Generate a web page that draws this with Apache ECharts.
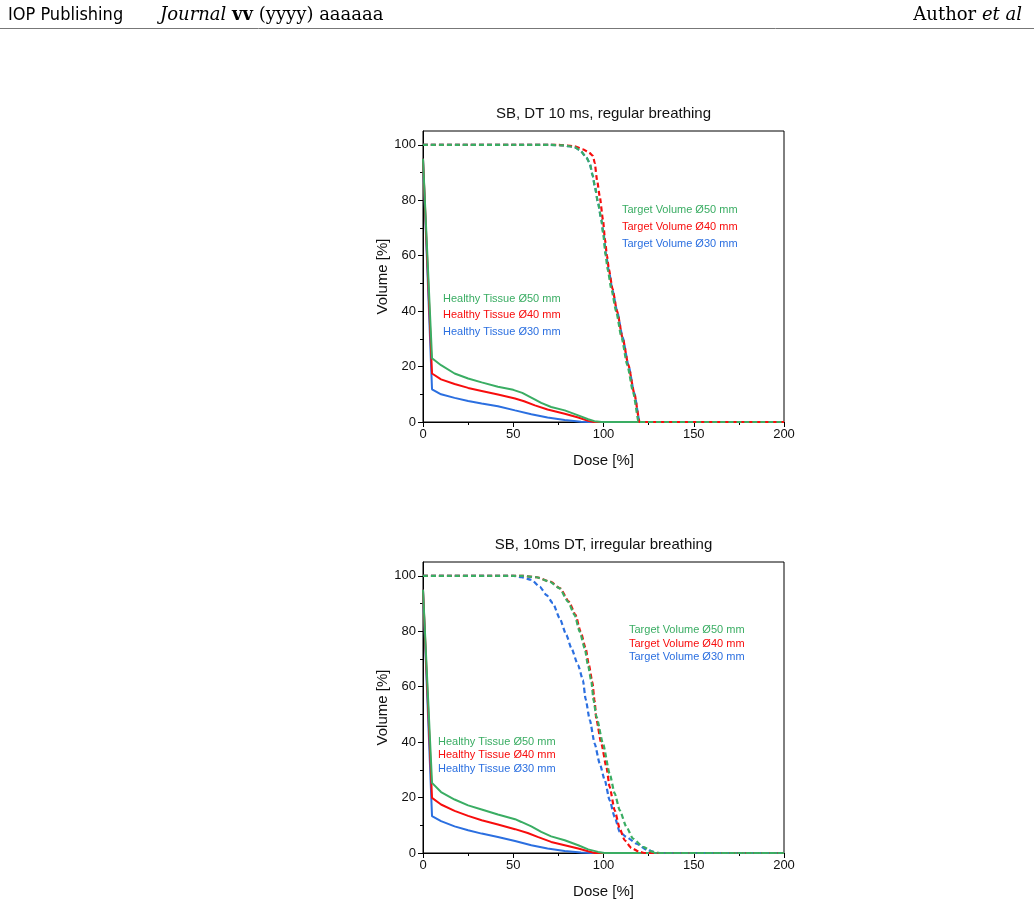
<!DOCTYPE html>
<html>
<head>
	<meta charset="UTF-8">
	<title>DVH</title>
	<script src="https://cdn.jsdelivr.net/npm/echarts@6/dist/echarts.min.js"></script>
	<style>
		html, body { margin: 0; padding: 0; background: #fff; }
		#main { width: 1034px; height: 906px; }
	</style>
</head>
<body>
	<div id="main"></div>
	<script type="text/javascript">
		// 坐标刻度
		var yMajor = [0, 20, 40, 60, 80, 100];
		var yMinor = [10, 30, 50, 70, 90];
		var titles = ['SB, DT 10 ms, regular breathing', 'SB, 10ms DT, irregular breathing'];
		var tissueNames = ['Healthy Tissue Ø50 mm', 'Healthy Tissue Ø40 mm', 'Healthy Tissue Ø30 mm'];
		var targetNames = ['Target Volume Ø50 mm', 'Target Volume Ø40 mm', 'Target Volume Ø30 mm'];

		// regular breathing: [dose, volume]
		var regHealthy50 = [[0, 95], [5, 23], [10, 20.5], [17.5, 17.5], [25, 15.7], [32.5, 14.3], [41.5, 12.7], [50, 11.6], [55, 10.5], [60, 8.8], [65.5, 6.9], [71, 5.4], [78.5, 4.2], [86, 2.4], [91.5, 1], [95, 0.3], [99, 0], [200, 0]];
		var regHealthy40 = [[0, 95], [5, 17.5], [10, 15.4], [17.5, 13.7], [25, 12.3], [32.5, 11.2], [41.5, 9.9], [51, 8.5], [56, 7.5], [62, 6], [69, 4.5], [78.5, 3], [86, 1.6], [91.5, 0.4], [94.5, 0], [200, 0]];
		var regHealthy30 = [[0, 95], [5, 11.8], [10, 10], [17.5, 8.7], [25, 7.6], [32.5, 6.7], [41.5, 5.7], [51, 4.2], [60, 2.8], [69, 1.6], [78.5, 0.7], [87.5, 0.1], [92, 0], [200, 0]];
		var regTarget50 = [[0, 100], [70, 100], [78, 99.8], [84, 99.2], [87, 98], [90.5, 95.5], [92.3, 93.5], [94, 89], [95.2, 85], [97, 79], [98.8, 73], [99.8, 68], [101.2, 60], [102.3, 55], [104.5, 47.5], [107, 40], [110, 30.5], [113.2, 20.5], [116.5, 10.5], [119.5, 0], [200, 0]];
		var regTarget40 = [[0, 100], [75, 100], [84, 99.5], [88.6, 98.4], [92, 97.2], [94.2, 96], [95.1, 93.5], [96.5, 87], [97.9, 81.5], [99.7, 73], [100.8, 66], [101.9, 60], [103, 55], [105, 48], [107.5, 40], [110.7, 30], [113.8, 20.5], [117, 10.5], [120, 0], [200, 0]];
		var regTarget30 = [[0, 100], [70, 100], [78, 99.8], [84, 99.2], [87, 98], [90.5, 95.5], [92.3, 93.5], [94, 89], [95.2, 85], [97, 79], [98.8, 73], [100, 68], [101.5, 60], [102.8, 55], [105, 47.5], [107.5, 40], [110.6, 30.5], [113.8, 20.5], [117, 10.5], [120, 0], [200, 0]];

		// irregular breathing
		var irrHealthy50 = [[0, 95], [5, 25.3], [10, 22], [17.5, 19.3], [25, 17.2], [32.5, 15.7], [41.5, 13.9], [51, 12.2], [54.5, 11.2], [60, 9.6], [65.5, 7.6], [71, 6], [78.5, 4.6], [86, 2.8], [91.5, 1.3], [97, 0.4], [100.5, 0], [200, 0]];
		var irrHealthy40 = [[0, 95], [5, 19.9], [10, 17.5], [17.5, 15.2], [25, 13.4], [32.5, 11.8], [41.5, 10.3], [51, 8.6], [58, 7.2], [63.5, 5.8], [71, 4], [78.5, 2.8], [86, 1.6], [91.5, 0.6], [95, 0], [200, 0]];
		var irrHealthy30 = [[0, 95], [5, 13.3], [10, 11.5], [17.5, 9.6], [25, 8.2], [32.5, 7], [41.5, 5.8], [51, 4.3], [60, 2.8], [69, 1.6], [78.5, 0.7], [87.5, 0.2], [93, 0], [200, 0]];
		var irrTarget50 = [[0, 100], [55, 100], [62.8, 99.5], [70.2, 97.9], [75.7, 95.5], [80.3, 90.7], [84, 85.9], [86.8, 79.9], [89.6, 73.9], [91.4, 67.8], [93.3, 61.8], [94.5, 55], [96.1, 49.2], [99.7, 39.5], [103.4, 28.7], [106.2, 21.5], [109, 15.4], [112.7, 9.4], [116.3, 5.2], [121.9, 2.2], [127.4, 0.4], [132, 0], [200, 0]];
		var irrTarget40 = [[0, 100], [55, 100], [63, 99.5], [70.5, 97.9], [76, 95.5], [80.8, 90.7], [84.5, 85.9], [87.3, 79.9], [90.1, 73.9], [91.9, 67.8], [93.8, 61.8], [95, 55.2], [96.1, 48], [98.8, 39.5], [101.6, 31.1], [103.4, 23.9], [106.2, 15.4], [109, 8.8], [111.7, 4.6], [115.5, 1.8], [120, 0.4], [123, 0], [200, 0]];
		var irrTarget30 = [[0, 100], [50, 100], [54.5, 99.5], [60, 98.6], [64.7, 96.1], [68.4, 93.1], [72, 90.1], [75.7, 84.7], [79.4, 78.7], [82.2, 73.9], [85.9, 67.8], [88.6, 62.4], [90.1, 55.5], [92.4, 48], [95.1, 39.5], [97.9, 32.3], [100.7, 26.3], [103.4, 19], [106.2, 13], [109, 7.6], [112.7, 5.8], [118.2, 3.4], [123.8, 1.2], [127.4, 0.5], [130, 0], [200, 0]];

		var colors = ['#3aad63', '#f70d0d', '#2b6fe0']; // 50 / 40 / 30
		var FONT = 'Arial, "Liberation Sans", sans-serif';
		var SERIF = '"DejaVu Serif", serif';

		var gridTops = [131, 562];
		var myChart = echarts.init(document.getElementById('main'));

		var grids = [], xAxes = [], yAxes = [], series = [], graphics = [];

		function addPanel(p, healthy, target) {
			grids.push({
				left: 423, top: gridTops[p], width: 361, height: 291,
				show: true, borderColor: '#000', borderWidth: 1, backgroundColor: 'transparent'
			});
			xAxes.push({
				gridIndex: p, type: 'value', min: 0, max: 200, interval: 50,
				name: 'Dose [%]', nameLocation: 'middle', nameGap: 31,
				nameTextStyle: { fontSize: 15, color: '#111', fontFamily: FONT },
				axisLine: { show: true, onZero: false, lineStyle: { color: '#000', width: 1 } },
				axisTick: { show: true, length: 5, lineStyle: { color: '#000' } },
				minorTick: { show: true, splitNumber: 2, length: 3, lineStyle: { color: '#000' } },
				axisLabel: { fontSize: 13, color: '#111', margin: 6, fontFamily: FONT },
				splitLine: { show: false }
			});
			yAxes.push({
				gridIndex: p, type: 'value', min: 0, max: 105,
				name: 'Volume [%]', nameLocation: 'middle', nameGap: 33, nameRotate: 90,
				nameTextStyle: { fontSize: 15, color: '#111', fontFamily: FONT },
				axisLine: { show: true, onZero: false, lineStyle: { color: '#000', width: 1 } },
				axisTick: { show: true, length: 5, customValues: yMajor, lineStyle: { color: '#000' } },
				axisLabel: { fontSize: 13, color: '#111', margin: 7, customValues: yMajor, fontFamily: FONT },
				splitLine: { show: false }
			});
			// 次刻度
			yAxes.push({
				gridIndex: p, type: 'value', min: 0, max: 105, position: 'left',
				axisLine: { show: false },
				axisTick: { show: true, length: 3, customValues: yMinor, lineStyle: { color: '#000' } },
				axisLabel: { show: false },
				splitLine: { show: false }
			});

			var order = [2, 1, 0];
			order.forEach(function (k) {
				series.push({
					type: 'line', xAxisIndex: p, yAxisIndex: p * 2, data: healthy[k],
					showSymbol: false, symbol: 'none', silent: true,
					lineStyle: { color: colors[k], width: 2 }
				});
			});
			order.forEach(function (k) {
				series.push({
					type: 'line', xAxisIndex: p, yAxisIndex: p * 2, data: target[k],
					showSymbol: false, symbol: 'none', silent: true, smooth: 0.2, smoothMonotone: 'x',
					lineStyle: { color: colors[k], width: 2.2, type: [5, 3] }
				});
			});

			graphics.push({
				type: 'text', x: 603.5, y: gridTops[p] - 17,
				style: { text: titles[p], fill: '#111', font: '15px ' + FONT, align: 'center', verticalAlign: 'middle' }
			});
		}

		addPanel(0, [regHealthy50, regHealthy40, regHealthy30], [regTarget50, regTarget40, regTarget30]);
		addPanel(1, [irrHealthy50, irrHealthy40, irrHealthy30], [irrTarget50, irrTarget40, irrTarget30]);

		// 图内标注文字
		var labelPos = [
			{ tx: 622, ty: [210, 227, 244], hx: 443, hy: [299, 315, 332] },
			{ tx: 629, ty: [630, 644, 657], hx: 438, hy: [742, 755, 769] }
		];
		labelPos.forEach(function (lp) {
			for (var k = 0; k < 3; k++) {
				graphics.push({
					type: 'text', x: lp.tx, y: lp.ty[k],
					style: { text: targetNames[k], fill: colors[k], font: '11px ' + FONT, verticalAlign: 'middle' }
				});
				graphics.push({
					type: 'text', x: lp.hx, y: lp.hy[k],
					style: { text: tissueNames[k], fill: colors[k], font: '11px ' + FONT, verticalAlign: 'middle' }
				});
			}
		});

		// 页眉
		graphics.push({
			type: 'text', x: 8, y: 15,
			style: { text: 'IOP Publishing', fill: '#000', font: '18px "DejaVu Sans Condensed", "Liberation Sans", sans-serif', verticalAlign: 'middle' }
		});
		graphics.push({
			type: 'text', x: 160, y: 15,
			style: {
				text: '{i|Journal} {b|vv} (yyyy) aaaaaa',
				fill: '#000', font: '18px ' + SERIF, verticalAlign: 'middle',
				rich: {
					i: { fontStyle: 'italic', fontSize: 18, fontFamily: SERIF },
					b: { fontWeight: 'bold', fontSize: 18, fontFamily: SERIF }
				}
			}
		});
		graphics.push({
			type: 'text', x: 1022, y: 15,
			style: {
				text: 'Author {i|et al}', fill: '#000', font: '18px ' + SERIF,
				align: 'right', verticalAlign: 'middle',
				rich: { i: { fontStyle: 'italic', fontSize: 18, fontFamily: SERIF } }
			}
		});
		graphics.push({
			type: 'line', shape: { x1: 0, y1: 28.5, x2: 1034, y2: 28.5 },
			style: { stroke: '#777', lineWidth: 1 }
		});

		option = {
			backgroundColor: '#fff',
			animation: false,
			grid: grids,
			xAxis: xAxes,
			yAxis: yAxes,
			series: series,
			graphic: graphics
		};
		myChart.setOption(option);
	</script>
</body>
</html>
